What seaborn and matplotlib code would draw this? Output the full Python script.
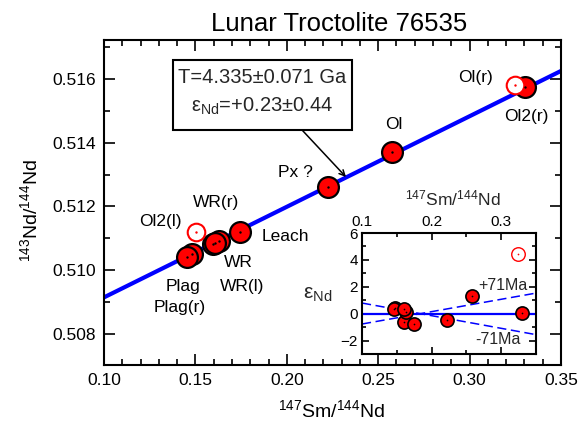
import matplotlib
matplotlib.use("Agg")
import matplotlib.pyplot as plt
import seaborn as sns
import numpy as np
from matplotlib.ticker import MultipleLocator, FormatStrFormatter
from matplotlib.patches import Rectangle

sns.set_style("ticks")
plt.rcParams['font.family'] = ['Liberation Sans', 'DejaVu Sans']
plt.rcParams['mathtext.fontset'] = 'custom'
plt.rcParams['mathtext.rm'] = 'Liberation Sans'
plt.rcParams['mathtext.it'] = 'Liberation Sans:italic'
plt.rcParams['mathtext.bf'] = 'Liberation Sans:bold'

# ---------------- data ----------------
names = ["Plag(r)", "Plag", "WR(r)", "WR(l)", "WR", "Leach", "Px ?", "Ol", "Ol2(r)"]
sm_filled = [0.1480, 0.1455, 0.1597, 0.1630, 0.1607, 0.1745, 0.2225, 0.2575, 0.3305]
nd_filled = [0.51050, 0.51043, 0.51082, 0.51091, 0.51085, 0.51120, 0.51260, 0.51370, 0.51574]
eps_filled = [0.45, 0.35, -0.64, 0.10, 0.37, -0.74, -0.50, 1.28, 0.05]

open_names = ["Ol2(l)", "Ol(r)"]
sm_open = [0.1503, 0.3248]
nd_open = [0.51120, 0.51582]
sm_open_inset = [0.3247]
eps_open_inset = [4.42]

iso_x = [0.10, 0.35]
iso_y = [0.50915, 0.51625]

env_x = [0.10, 0.35]
env_plus = [-0.77, 1.53]
env_minus = [0.79, -1.56]
zero_y = [0.0, 0.0]

xticks_main = [0.10, 0.15, 0.20, 0.25, 0.30, 0.35]
yticks_main = [0.508, 0.510, 0.512, 0.514, 0.516]
xticks_inset = [0.1, 0.2, 0.3]
yticks_inset = [-2, 0, 2, 4, 6]

# labels: (text, x, y) in data coords
point_labels = [
    ("Ol(r)", 0.3035, 0.51603),
    ("Ol2(r)", 0.3312, 0.51481),
    ("Ol", 0.2586, 0.51457),
    ("Px ?", 0.2049, 0.51305),
    ("WR(r)", 0.1613, 0.51211),
    ("Ol2(l)", 0.1310, 0.51152),
    ("Leach", 0.1994, 0.51106),
    ("WR", 0.1735, 0.51023),
    ("WR(l)", 0.1757, 0.50949),
    ("Plag", 0.1434, 0.50949),
    ("Plag(r)", 0.1412, 0.50882),
]

# ---------------- figure ----------------
W, H = 579, 429
fig = plt.figure(figsize=(W / 100, H / 100), dpi=100)
fig.patch.set_facecolor("white")

ax = fig.add_axes([104 / W, (H - 365) / H, 457 / W, 325 / H])
ax.set_facecolor("white")

sns.lineplot(x=iso_x, y=iso_y, color="#0000ff", lw=3, ax=ax, zorder=2)
sns.scatterplot(x=sm_filled, y=nd_filled, s=225, color="#ff0000",
                edgecolor="black", linewidth=1.6, ax=ax, zorder=3)
sns.scatterplot(x=sm_filled, y=nd_filled, s=3, color="black",
                linewidth=0, ax=ax, zorder=4)
sns.scatterplot(x=sm_open, y=nd_open, s=160, color="white",
                edgecolor="#ff0000", linewidth=1.5, ax=ax, zorder=3)
sns.scatterplot(x=sm_open, y=nd_open, s=3, color="#ff0000",
                linewidth=0, ax=ax, zorder=4)

ax.set_xlim(0.10, 0.35)
ax.set_ylim(0.50703, 0.51722)
ax.set_xticks(xticks_main)
ax.set_yticks(yticks_main)
ax.xaxis.set_major_formatter(FormatStrFormatter("%.2f"))
ax.yaxis.set_major_formatter(FormatStrFormatter("%.3f"))
ax.xaxis.set_minor_locator(MultipleLocator(0.01))
ax.yaxis.set_minor_locator(MultipleLocator(0.001))
ax.tick_params(which="both", direction="in", top=True, right=True,
               color="black", width=1.2, labelsize=12.5, labelcolor="black")
ax.tick_params(which="major", length=8, pad=6)
ax.tick_params(which="minor", length=4)
for sp in ax.spines.values():
    sp.set_visible(True)
    sp.set_linewidth(1.5)
    sp.set_color("black")

ax.set_xlabel(r"$^{147}$Sm/$^{144}$Nd", fontsize=14, color="black")
ax.xaxis.label.set_va("center")
ax.xaxis.set_label_coords((332 - 104) / 457, (365 - 410) / 325)
ax.set_ylabel(r"$^{143}$Nd/$^{144}$Nd", fontsize=14, color="black")
ax.yaxis.label.set_va("center")
ax.yaxis.set_label_coords((30 - 104) / 457, (365 - 210) / 325)

ax.text((339 - 104) / 457, (365 - 24) / 325, "Lunar Troctolite 76535",
        transform=ax.transAxes, ha="center", va="center", fontsize=18.5,
        color="black")

for t, x, y in point_labels:
    ax.text(x, y, t, ha="center", va="center", fontsize=12.5, color="black",
            zorder=5)

# annotation box
box = Rectangle(((173 - 104) / 457, (365 - 130) / 325), (352 - 173) / 457,
                70 / 325, transform=ax.transAxes, facecolor="white",
                edgecolor="black", linewidth=1.5, zorder=6)
ax.add_patch(box)
ax.text((262.5 - 104) / 457, (365 - 77.7) / 325, "T=4.335±0.071 Ga",
        transform=ax.transAxes, ha="center", va="center", fontsize=14.5,
        zorder=7)
ax.text((262.5 - 104) / 457, (365 - 106) / 325, r"ε$_{\rm Nd}$=+0.23±0.44",
        transform=ax.transAxes, ha="center", va="center", fontsize=14.5,
        zorder=7)
ax.annotate("", xy=((346 - 104) / 457, (365 - 177) / 325),
            xytext=((302.7 - 104) / 457, (365 - 130.7) / 325),
            xycoords="axes fraction", textcoords="axes fraction",
            arrowprops=dict(arrowstyle="->", lw=1.1, color="black",
                            shrinkA=0, shrinkB=0), zorder=6)

# ---------------- inset ----------------
ax2 = fig.add_axes([362 / W, (H - 354) / H, 174 / W, 121 / H])
ax2.set_facecolor("white")
sns.lineplot(x=env_x, y=zero_y, color="#0000ff", lw=1.6, ax=ax2, zorder=2)
sns.lineplot(x=env_x, y=env_plus, color="#0000ff", lw=1.1, ax=ax2,
             linestyle=(0, (6, 3)), zorder=2)
sns.lineplot(x=env_x, y=env_minus, color="#0000ff", lw=1.1, ax=ax2,
             linestyle=(0, (6, 3)), zorder=2)
sns.scatterplot(x=sm_filled, y=eps_filled, s=90, color="#ff0000",
                edgecolor="black", linewidth=1.2, ax=ax2, zorder=3)
sns.scatterplot(x=sm_filled, y=eps_filled, s=1.5, color="black",
                linewidth=0, ax=ax2, zorder=4)
sns.scatterplot(x=sm_open_inset, y=eps_open_inset, s=95, color="white",
                edgecolor="#ff0000", linewidth=1.0, ax=ax2, zorder=3)
sns.scatterplot(x=sm_open_inset, y=eps_open_inset, s=1.5, color="#ff0000",
                linewidth=0, ax=ax2, zorder=4)

ax2.set_xlim(0.10, 0.35)
ax2.set_ylim(-3, 6)
ax2.set_xticks(xticks_inset)
ax2.set_yticks(yticks_inset)
ax2.xaxis.set_major_formatter(FormatStrFormatter("%.1f"))
ax2.xaxis.set_minor_locator(MultipleLocator(0.05))
ax2.yaxis.set_minor_locator(MultipleLocator(1))
ax2.tick_params(which="both", direction="in", top=True, right=True,
                bottom=True, left=True, labeltop=True, labelbottom=False,
                color="black", width=1.2, labelsize=11, labelcolor="black")
ax2.tick_params(which="major", length=5, pad=3)
ax2.tick_params(which="minor", length=3)
for sp in ax2.spines.values():
    sp.set_visible(True)
    sp.set_linewidth(1.5)
    sp.set_color("black")
ax2.set_xlabel("")
ax2.set_ylabel("")

ax2.text((453 - 362) / 174, (354 - 198) / 121, r"$^{147}$Sm/$^{144}$Nd",
         transform=ax2.transAxes, ha="center", va="center", fontsize=12.5)
ax2.text((318 - 362) / 174, (354 - 295) / 121, r"ε$_{\rm Nd}$",
         transform=ax2.transAxes, ha="center", va="center", fontsize=15)
ax2.text((503 - 362) / 174, (354 - 285) / 121, "+71Ma",
         transform=ax2.transAxes, ha="center", va="center", fontsize=11.5,
         zorder=5)
ax2.text((498 - 362) / 174, (354 - 340) / 121, "-71Ma",
         transform=ax2.transAxes, ha="center", va="center", fontsize=11.5,
         zorder=5)

fig.savefig("out.png", dpi=100, facecolor="white")
